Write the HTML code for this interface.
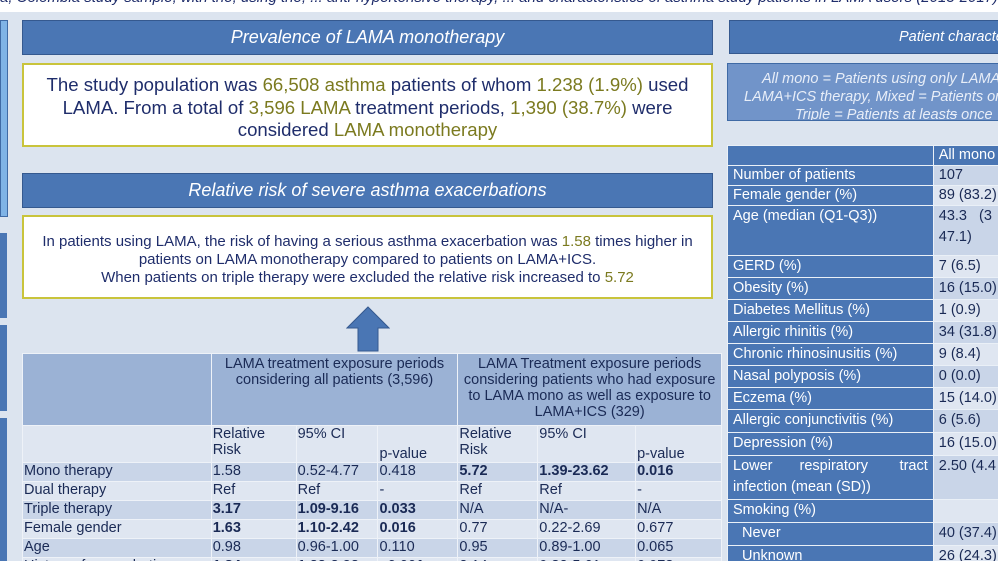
<!DOCTYPE html>
<html style="width:998px;height:561px;overflow:hidden"><head><meta charset="utf-8"><style>
*{margin:0;padding:0;box-sizing:border-box}
body{width:998px;height:561px;overflow:hidden;background:#dce4ef;font-family:"Liberation Sans",sans-serif;position:relative}
.abs{position:absolute}
.hdr{background:#4a76b4;border:1px solid #35598f;color:#fff;font-style:italic;font-size:18px;text-align:center;line-height:33px}
.box{background:#fff;border:2px solid #c9c43c;color:#1f2d6b;text-align:center}
.ol{color:#7b7a1f}
table{border-collapse:collapse}
#rt td{border:1px solid #eef2f8;font-size:14.5px;color:#1a2a55;padding:0 1px;vertical-align:top;line-height:16px}
#rt .h{background:#9bb2d5}
#rt tr.a td{background:#c9d5e8}
#rt tr.b td{background:#dfe6f1}
#ct td{border:1px solid #eaf0f7;font-size:14.5px;padding:0 5px;vertical-align:top;line-height:21px}
#ct td.l{background:#4a76b4;color:#fff}
#ct td.v{background:#dfe6f1;color:#1a2a55}
#ct tr:nth-child(even) td.v{background:#c9d5e8}
</style></head><body>
<div class="abs" style="left:0;top:0;width:998px;height:12px;background:#fff;overflow:hidden"><div style="font-style:italic;font-size:15px;color:#1f2d6b;margin-top:-11px;white-space:nowrap">a, Colombia study sample, with the, using the, ... anti-hypertensive therapy, ... and characteristics of asthma study patients in LAMA users (2013-2017)</div></div>
<div class="abs" style="left:0;top:20px;width:8px;height:197px;background:#7fb3e6;border:1px solid #3f6aa5"></div>
<div class="abs" style="left:0;top:233px;width:7px;height:85px;background:#4a76b4"></div>
<div class="abs" style="left:0;top:325px;width:7px;height:86px;background:#4a76b4"></div>
<div class="abs" style="left:0;top:418px;width:7px;height:143px;background:#4a76b4"></div>

<div class="abs hdr" style="left:22px;top:20px;width:691px;height:35px">Prevalence of LAMA monotherapy</div>
<div class="abs box" style="left:22px;top:63px;width:691px;height:84px;font-size:18.6px;line-height:22.5px;padding-top:9px">The study population was <span class="ol">66,508 asthma</span> patients of whom <span class="ol">1.238 (1.9%)</span> used<br>LAMA. From a total of <span class="ol">3,596 LAMA</span> treatment periods, <span class="ol">1,390 (38.7%)</span> were<br>considered <span class="ol">LAMA monotherapy</span></div>

<div class="abs hdr" style="left:22px;top:173px;width:691px;height:35px">Relative risk of severe asthma exacerbations</div>
<div class="abs box" style="left:22px;top:215px;width:691px;height:84px;font-size:15px;line-height:18px;padding-top:16px">In patients using LAMA, the risk of having a serious asthma exacerbation was <span class="ol">1.58</span> times higher in<br>patients on LAMA monotherapy compared to patients on LAMA+ICS.<br>When patients on triple therapy were excluded the relative risk increased to <span class="ol">5.72</span></div>

<svg class="abs" style="left:346px;top:306px" width="44" height="46"><polygon points="22,1 43,22 32,22 32,45 12,45 12,22 1,22" fill="#4a76b4" stroke="#35598f"/></svg>

<table id="rt" class="abs" style="left:22px;top:353px;width:700px">
<colgroup><col style="width:189px"><col style="width:85px"><col style="width:82px"><col style="width:80px"><col style="width:80px"><col style="width:98px"><col style="width:86px"></colgroup>
<tr style="height:72px"><td class="h"></td><td class="h" colspan="3" style="text-align:center;padding-top:2px">LAMA treatment exposure periods<br>considering all patients (3,596)</td><td class="h" colspan="3" style="text-align:center;padding-top:2px">LAMA Treatment exposure periods<br>considering patients who had exposure<br>to LAMA mono as well as exposure to<br>LAMA+ICS (329)</td></tr>
<tr class="b" style="height:37px"><td></td><td>Relative<br>Risk</td><td>95% CI</td><td style="vertical-align:bottom">p-value</td><td>Relative<br>Risk</td><td>95% CI</td><td style="vertical-align:bottom">p-value</td></tr>
<tr class="a" style="height:19px"><td>Mono therapy</td><td>1.58</td><td>0.52-4.77</td><td>0.418</td><td><b>5.72</b></td><td><b>1.39-23.62</b></td><td><b>0.016</b></td></tr>
<tr class="b" style="height:19px"><td>Dual therapy</td><td>Ref</td><td>Ref</td><td>-</td><td>Ref</td><td>Ref</td><td>-</td></tr>
<tr class="a" style="height:19px"><td>Triple therapy</td><td><b>3.17</b></td><td><b>1.09-9.16</b></td><td><b>0.033</b></td><td>N/A</td><td>N/A-</td><td>N/A</td></tr>
<tr class="b" style="height:19px"><td>Female gender</td><td><b>1.63</b></td><td><b>1.10-2.42</b></td><td><b>0.016</b></td><td>0.77</td><td>0.22-2.69</td><td>0.677</td></tr>
<tr class="a" style="height:19px"><td>Age</td><td>0.98</td><td>0.96-1.00</td><td>0.110</td><td>0.95</td><td>0.89-1.00</td><td>0.065</td></tr>
<tr class="b" style="height:19px"><td>History of exacerbations</td><td><b>1.84</b></td><td><b>1.22-2.92</b></td><td><b>&lt;0.001</b></td><td>2.14</td><td>0.82-5.61</td><td>0.073</td></tr>
</table>

<div class="abs hdr" style="left:729px;top:20px;width:280px;height:34px;font-size:14.5px;text-align:left;padding-left:169px;white-space:nowrap;overflow:hidden">Patient characteristics</div>
<div class="abs" style="left:727px;top:63px;width:290px;height:58px;background:#7194c9;border:1px solid #3f6aa5;color:#e8eef8;font-style:italic;font-size:14.5px;line-height:18px;padding-top:6px;white-space:nowrap;overflow:hidden"><div style="padding-left:34px">All mono = Patients using only LAMA</div><div style="padding-left:16px">LAMA+ICS therapy, Mixed = Patients on</div><div style="padding-left:67px">Triple = Patients at least<s>s</s> once</div></div>

<table id="ct" class="abs" style="left:727px;top:145px;width:290px">
<colgroup><col style="width:206px"><col style="width:84px"></colgroup>
<tr style="height:20px"><td class="l"></td><td class="l" style="line-height:19px">All mono</td></tr>
<tr style="height:20px"><td class="l" style="line-height:19px">Number of patients</td><td class="v" style="line-height:19px">107</td></tr>
<tr style="height:20px"><td class="l" style="line-height:19px">Female gender (%)</td><td class="v" style="line-height:19px">89 (83.2)</td></tr>
<tr style="height:50px"><td class="l">Age (median (Q1-Q3))</td><td class="v">43.3&nbsp;&nbsp;&nbsp;(3<br>47.1)</td></tr>
<tr style="height:21px"><td class="l">GERD (%)</td><td class="v">7 (6.5)</td></tr>
<tr style="height:21px"><td class="l">Obesity (%)</td><td class="v">16 (15.0)</td></tr>
<tr style="height:22px"><td class="l">Diabetes Mellitus (%)</td><td class="v">1 (0.9)</td></tr>
<tr style="height:22px"><td class="l">Allergic rhinitis (%)</td><td class="v">34 (31.8)</td></tr>
<tr style="height:22px"><td class="l">Chronic rhinosinusitis (%)</td><td class="v">9 (8.4)</td></tr>
<tr style="height:22px"><td class="l">Nasal polyposis (%)</td><td class="v">0 (0.0)</td></tr>
<tr style="height:22px"><td class="l">Eczema (%)</td><td class="v">15 (14.0)</td></tr>
<tr style="height:23px"><td class="l">Allergic conjunctivitis (%)</td><td class="v">6 (5.6)</td></tr>
<tr style="height:23px"><td class="l">Depression (%)</td><td class="v">16 (15.0)</td></tr>
<tr style="height:44px"><td class="l" style="text-align:justify;text-align-last:left">Lower&nbsp;&nbsp;&nbsp;&nbsp;&nbsp;&nbsp;respiratory&nbsp;&nbsp;&nbsp;&nbsp;&nbsp;&nbsp;&nbsp;tract infection (mean (SD))</td><td class="v">2.50 (4.4</td></tr>
<tr style="height:23px"><td class="l">Smoking (%)</td><td class="v"></td></tr>
<tr style="height:23px"><td class="l" style="padding-left:14px">Never</td><td class="v">40 (37.4)</td></tr>
<tr style="height:23px"><td class="l" style="padding-left:14px">Unknown</td><td class="v">26 (24.3)</td></tr>
</table>
</body></html>
